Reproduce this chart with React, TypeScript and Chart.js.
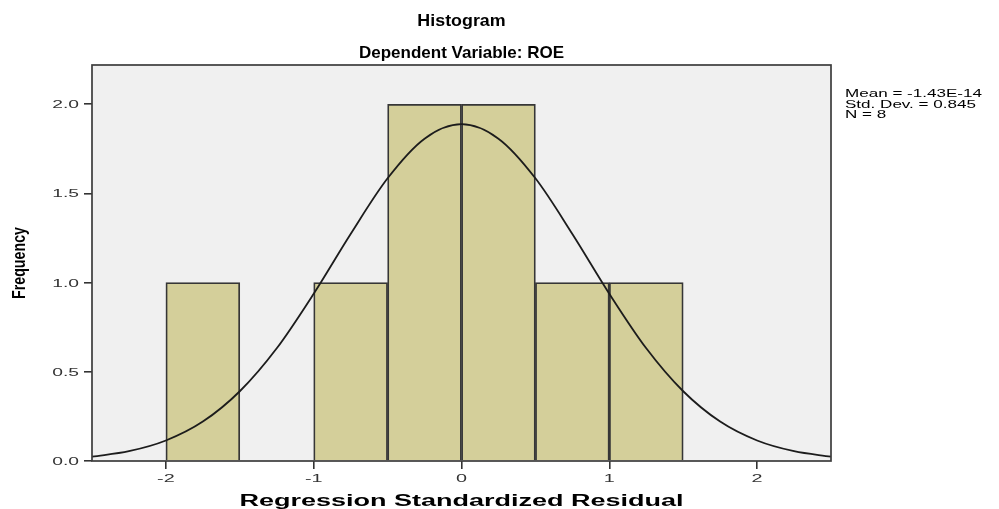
import React, { useEffect, useRef } from "react";
import { Chart, registerables } from "chart.js";

Chart.register(...registerables);

// ---- data ----
const binCenters = [-1.75, -0.75, -0.25, 0.25, 0.75, 1.25];
const frequencies = [1, 1, 2, 2, 1, 1];

const curveX = [-2.5, -2.25, -2, -1.75, -1.5, -1.25, -1, -0.75, -0.5, -0.25, 0, 0.25, 0.5, 0.75, 1, 1.25, 1.5, 1.75, 2, 2.25, 2.5];
const curveY = [0.024, 0.055, 0.115, 0.221, 0.391, 0.632, 0.938, 1.273, 1.585, 1.807, 1.888, 1.807, 1.585, 1.273, 0.938, 0.632, 0.391, 0.221, 0.115, 0.055, 0.024];

const xTickValues = [-2, -1, 0, 1, 2];
const yTickValues = [0, 0.5, 1.0, 1.5, 2.0];
const yTickLabels = ["0.0", "0.5", "1.0", "1.5", "2.0"];
const xTickLabels = ["-2", "-1", "0", "1", "2"];

const titleText = "Histogram";
const subtitleText = "Dependent Variable: ROE";
const xTitle = "Regression Standardized Residual";
const yTitle = "Frequency";
const statsLines = ["Mean = -1.43E-14", "Std. Dev. = 0.845", "N = 8"];

const FONT = "'Liberation Sans', Arial, sans-serif";

function drawText(
  ctx: CanvasRenderingContext2D,
  text: string,
  x: number,
  y: number,
  font: string,
  align: CanvasTextAlign,
  opts: { width?: number; sx?: number; color?: string; rotate?: number }
) {
  ctx.save();
  ctx.font = font;
  const w = ctx.measureText(text).width;
  const sx = opts.width ? opts.width / w : opts.sx ?? 1;
  ctx.translate(x, y);
  if (opts.rotate) ctx.rotate(opts.rotate);
  ctx.scale(sx, 1);
  ctx.textAlign = align;
  ctx.textBaseline = "alphabetic";
  ctx.fillStyle = opts.color ?? "#000";
  ctx.fillText(text, 0, 0);
  ctx.restore();
}

const decorPlugin = {
  id: "decor",
  beforeDraw(chart: any) {
    const { ctx, chartArea: a } = chart;
    ctx.save();
    ctx.fillStyle = "#ffffff";
    ctx.fillRect(0, 0, chart.width, chart.height);
    ctx.fillStyle = "#f0f0f0";
    ctx.fillRect(a.left, a.top, a.right - a.left, a.bottom - a.top);
    ctx.restore();
  },
  afterDraw(chart: any) {
    const { ctx, chartArea: a, scales } = chart;
    const cx = (a.left + a.right) / 2;
    ctx.save();
    ctx.strokeStyle = "#3c3c3c";
    ctx.lineWidth = 1.7;
    ctx.strokeRect(a.left, a.top, a.right - a.left, a.bottom - a.top);
    ctx.restore();

    // titles
    drawText(ctx, titleText, cx, 26, `bold 17px ${FONT}`, "center", { sx: 1.05 });
    drawText(ctx, subtitleText, cx, 58, `bold 17px ${FONT}`, "center", { sx: 1.0 });

    // axis titles
    drawText(ctx, xTitle, cx, 506, `bold 16px ${FONT}`, "center", { width: 444 });
    drawText(ctx, yTitle, 25, (a.top + a.bottom) / 2, `bold 18px ${FONT}`, "center", {
      width: 72,
      rotate: -Math.PI / 2,
    });

    // tick labels
    yTickValues.forEach((v, i) => {
      const py = scales.y.getPixelForValue(v);
      drawText(ctx, yTickLabels[i], a.left - 13, py + 4, `11px ${FONT}`, "right", { sx: 1.75, color: "#333" });
    });
    xTickValues.forEach((v, i) => {
      const px = scales.x.getPixelForValue(v);
      drawText(ctx, xTickLabels[i], px, 482, `11px ${FONT}`, "center", { sx: 1.8, color: "#333" });
    });

    // stats
    statsLines.forEach((s, i) => {
      drawText(ctx, s, a.right + 14, 97 + i * 10.5, `11px ${FONT}`, "left", { sx: 1.55 });
    });
  },
};

export default function App() {
  const ref = useRef<HTMLCanvasElement | null>(null);

  useEffect(() => {
    document.body.style.margin = "0";
    const canvas = ref.current;
    if (!canvas) return;
    const chart = new Chart(canvas, {
      type: "bar",
      data: {
        datasets: [
          {
            type: "line",
            data: curveX.map((x, i) => ({ x, y: curveY[i] })),
            borderColor: "#1c1c1c",
            borderWidth: 1.8,
            pointRadius: 0,
            cubicInterpolationMode: "monotone",
            fill: false,
            order: 0,
          } as any,
          {
            type: "bar",
            data: binCenters.map((x, i) => ({ x, y: frequencies[i] })),
            backgroundColor: "#d4cf9a",
            borderColor: "#363636",
            borderWidth: 1.8,
            barPercentage: 1,
            categoryPercentage: 1,
            order: 1,
          } as any,
        ],
      },
      options: {
        animation: false,
        responsive: false,
        maintainAspectRatio: false,
        layout: { padding: { left: 84, top: 65, right: 168, bottom: 40 } },
        plugins: {
          legend: { display: false },
          tooltip: { enabled: false },
          title: { display: false },
        },
        scales: {
          x: {
            type: "linear",
            min: -2.5,
            max: 2.5,
            offset: false,
            afterBuildTicks: (s: any) => {
              s.ticks = xTickValues.map((v) => ({ value: v }));
            },
            ticks: { display: false },
            grid: { offset: false, drawOnChartArea: false, drawTicks: true, tickLength: 8, color: "#333", lineWidth: 1.6 },
            border: { display: false },
          },
          y: {
            type: "linear",
            min: 0,
            max: 2.22,
            afterBuildTicks: (s: any) => {
              s.ticks = yTickValues.map((v) => ({ value: v }));
            },
            ticks: { display: false },
            grid: { drawOnChartArea: false, drawTicks: true, tickLength: 8, color: "#333", lineWidth: 1.6 },
            border: { display: false },
          },
        },
      } as any,
      plugins: [decorPlugin],
    });
    return () => chart.destroy();
  }, []);

  return (
    <div style={{ width: 999, height: 509 }}>
      <canvas ref={ref} width={999} height={509} style={{ display: "block" }} />
    </div>
  );
}
